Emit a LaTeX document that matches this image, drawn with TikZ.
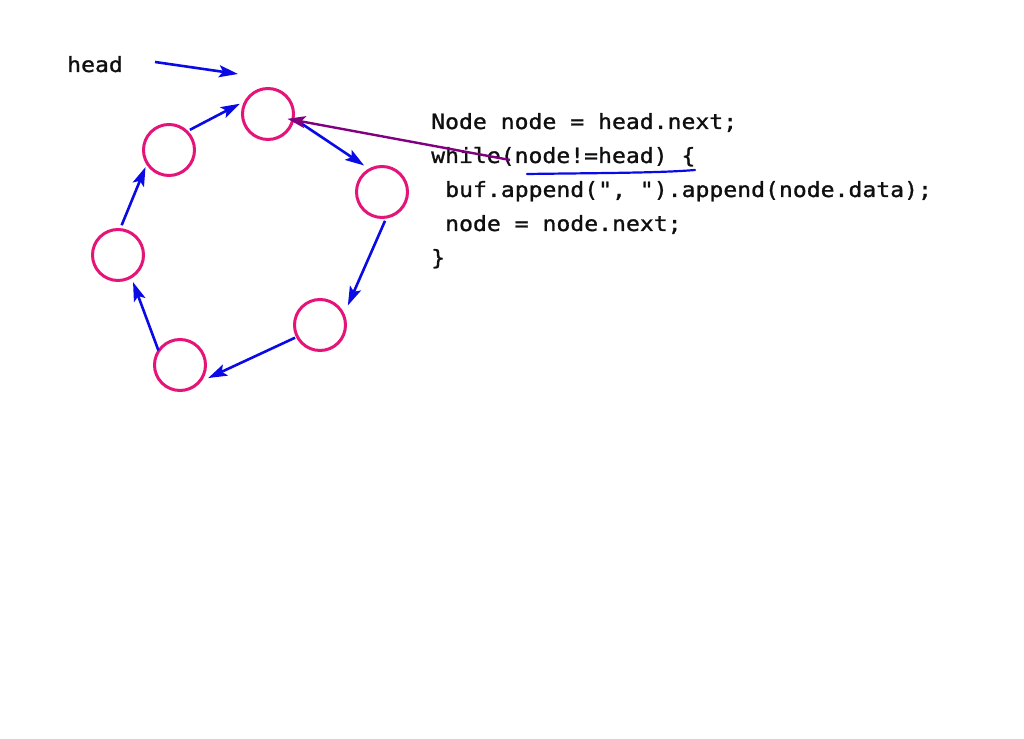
\documentclass[tikz,border=0pt]{standalone}
\usepackage{fontspec}
\newfontfamily\codefont[FakeStretch=1.1,FakeBold=1.2]{DejaVu Sans Mono}
\usetikzlibrary{arrows.meta,calc,shadows}
\definecolor{ringpink}{RGB}{228,20,120}
\definecolor{arrblue}{RGB}{10,10,230}
\definecolor{arrpurple}{RGB}{128,0,128}
\definecolor{codeblack}{RGB}{15,15,15}
\begin{document}
\begin{tikzpicture}[x=1pt,y=1pt,
  ring/.style={circle,draw=ringpink,line width=3pt,fill=white,minimum size=51pt,inner sep=0pt,
    drop shadow={shadow xshift=1.2pt,shadow yshift=-1.2pt,opacity=0.25,fill=gray}},
  link/.style={draw=arrblue,line width=2.6pt,-{Stealth[length=19pt,width=12pt,inset=4pt]}},
  plink/.style={draw=arrpurple,line width=2.4pt,-{Stealth[length=18pt,width=12pt,inset=4pt]}},
  codeline/.style={anchor=base west,inner sep=0pt,text=codeblack,font=\codefont\fontsize{21}{34}\selectfont}]
\useasboundingbox (0,0) rectangle (1024,738);
% nodes
\node[ring] (c1) at (268,624) {};
\node[ring] (c2) at (169,588) {};
\node[ring] (c3) at (382,546) {};
\node[ring] (c4) at (118,483) {};
\node[ring] (c5) at (320,413) {};
\node[ring] (c6) at (180,373) {};
% text
\node[codeline] (head) at (67,666) {head};
\node[codeline] (l1) at (431,609) {Node node = head.next;};
\node[codeline] (l2) at (431,575) {while(node!=head) \{};
\node[codeline] (l3) at (445,541) {buf.append(", ").append(node.data);};
\node[codeline] (l4) at (445,507) {node = node.next;};
\node[codeline] (l5) at (431,473) {\}};
% connectors
\coordinate (hs) at (155,676);
\coordinate (he) at (238,664);
\draw[link] (hs) -- (he);
\draw[link] ($(c2.center)+(44:29pt)$) -- ($(c1.center)+(160:30pt)$);
\draw[link] ($(c1.center)+(-13:30pt)$) -- ($(c3.center)+(124:32pt)$);
\draw[link] ($(c3.center)+(-84:29pt)$) -- ($(c5.center)+(35:34pt)$);
\draw[link] ($(c5.center)+(207:28pt)$) -- ($(c6.center)+(-25:31pt)$);
\draw[link] ($(c6.center)+(146:26pt)$) -- ($(c4.center)+(-61:31pt)$);
\draw[link] ($(c4.center)+(83:30pt)$) -- ($(c2.center)+(216:29pt)$);
% underline and purple pointer
\coordinate (u1) at (527,564);
\coordinate (u2) at (695,568);
\draw[arrblue,line width=2.2pt,line cap=round] (u1) .. controls (600,565) and (660,565) .. (u2);
\coordinate (ps) at (510,578);
\draw[plink] (ps) -- ($(c1.center)+(-14:20pt)$);
\end{tikzpicture}
\end{document}
